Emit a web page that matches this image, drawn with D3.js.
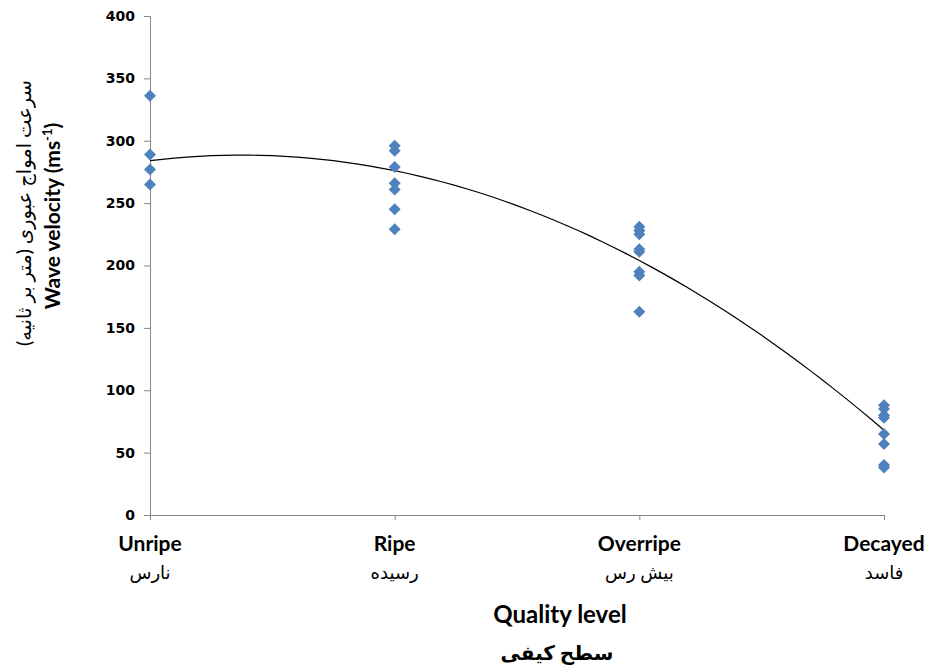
<!DOCTYPE html>
<html>
<head>
<meta charset="utf-8">
<script src="https://cdn.jsdelivr.net/npm/d3@7"></script>
<style>
  body { margin: 0; background: #fff; }
  svg { display: block; }
</style>
</head>
<body>
<div id="svg-container"></div>
<script>
// categorieen op de x-as
const categories = ['Unripe', 'Ripe', 'Overripe', 'Decayed']
const categoriesFa = ['نارس', 'رسیده', 'بیش رس', 'فاسد']

// gemeten waardes per categorie (m/s)
const unripeValues = [336, 289, 277, 265]
const ripeValues = [296, 292, 279, 266, 261, 245, 229]
const overripeValues = [231, 228, 225, 213, 211, 195, 192, 163]
const decayedValues = [88, 85, 80, 78, 65, 57, 40, 38]

// y-as ticks
const yTicks = [0, 50, 100, 150, 200, 250, 300, 350, 400]

// trendlijn (2e graads polynoom, x = 1..4): a*x^2 + b*x + c
const trendCoefficients = [-32, 88, 228]

const width = 929
const height = 672
const margin = { top: 16, right: 45, bottom: 157, left: 150 }

const svg = d3.select('#svg-container')
    .append('svg').attr('width', width).attr('height', height)

// punten als lijst
const groups = [unripeValues, ripeValues, overripeValues, decayedValues]
const points = []
groups.forEach((vals, i) => vals.forEach(v => points.push({ cat: categories[i], value: v })))

// schalen
const xScale = d3.scalePoint()
    .domain(categories)
    .range([margin.left, width - margin.right])
const xIndex = d3.scaleLinear()
    .domain([1, categories.length])
    .range([margin.left, width - margin.right])
const yScale = d3.scaleLinear()
    .domain([0, 400])
    .range([height - margin.bottom, margin.top])

const axisColor = '#868686'

// y-as
const yAxisG = svg.append('g')
    .attr('transform', `translate(${margin.left},0)`)
    .call(d3.axisLeft(yScale).tickValues(yTicks).tickSize(6).tickPadding(9))
yAxisG.selectAll('path, line').attr('stroke', axisColor)
yAxisG.selectAll('text')
    .attr('font-family', "'DejaVu Sans', sans-serif")
    .attr('font-weight', 'bold')
    .attr('font-size', 14)
    .attr('fill', '#000')

// x-as
const xAxisG = svg.append('g')
    .attr('transform', `translate(0,${yScale(0)})`)
    .call(d3.axisBottom(xScale).tickSize(5).tickSizeOuter(0))
xAxisG.selectAll('path, line').attr('stroke', axisColor)
xAxisG.selectAll('text').remove()

// categorie labels (engels + perzisch)
const labelFont = "Lato, 'DejaVu Sans', sans-serif"
svg.append('g').selectAll('text')
    .data(categories)
    .join('text')
    .attr('x', d => xScale(d))
    .attr('y', 551)
    .attr('text-anchor', 'middle')
    .attr('font-family', labelFont)
    .attr('font-weight', 'bold')
    .attr('font-size', 21)
    .text(d => d)
svg.append('g').selectAll('text')
    .data(categoriesFa)
    .join('text')
    .attr('x', (d, i) => xScale(categories[i]))
    .attr('y', 579)
    .attr('text-anchor', 'middle')
    .attr('font-family', labelFont)
    .attr('font-size', 18)
    .text(d => d)

// x-as titel
svg.append('text')
    .attr('x', 560).attr('y', 623)
    .attr('text-anchor', 'middle')
    .attr('font-family', labelFont)
    .attr('font-weight', 'bold')
    .attr('font-size', 24)
    .text('Quality level')
svg.append('text')
    .attr('x', 557).attr('y', 660)
    .attr('text-anchor', 'middle')
    .attr('font-family', labelFont)
    .attr('font-weight', 'bold')
    .attr('font-size', 20)
    .text('سطح کیفی')

// y-as titel
const yTitle = svg.append('text')
    .attr('transform', 'translate(60,216) rotate(-90)')
    .attr('text-anchor', 'middle')
    .attr('font-family', labelFont)
    .attr('font-weight', 'bold')
    .attr('font-size', 21)
yTitle.append('tspan').text('Wave velocity (ms')
yTitle.append('tspan').attr('font-size', 13).attr('dy', -8).text('-1')
yTitle.append('tspan').attr('dy', 8).text(')')
svg.append('text')
    .attr('transform', 'translate(31,213) rotate(-90)')
    .attr('text-anchor', 'middle')
    .attr('font-family', labelFont)
    .attr('font-size', 19.5)
    .text('سرعت امواج عبوری (متر بر ثانیه)')

// trendlijn
const trendFn = x => trendCoefficients[0] * x * x + trendCoefficients[1] * x + trendCoefficients[2]
const trendData = d3.range(1, 4.001, 0.05).map(x => ({ x, y: trendFn(x) }))
svg.append('path')
    .datum(trendData)
    .attr('fill', 'none')
    .attr('stroke', '#000')
    .attr('stroke-width', 1.2)
    .attr('d', d3.line().x(d => xIndex(d.x)).y(d => yScale(d.y)))

// ruitjes voor de metingen
const diamond = 'M0,-6L6,0L0,6L-6,0Z'
svg.append('g').selectAll('path')
    .data(points)
    .join('path')
    .attr('d', diamond)
    .attr('transform', d => `translate(${xScale(d.cat)},${yScale(d.value)})`)
    .attr('fill', '#4F81BD')
</script>
</body>
</html>
